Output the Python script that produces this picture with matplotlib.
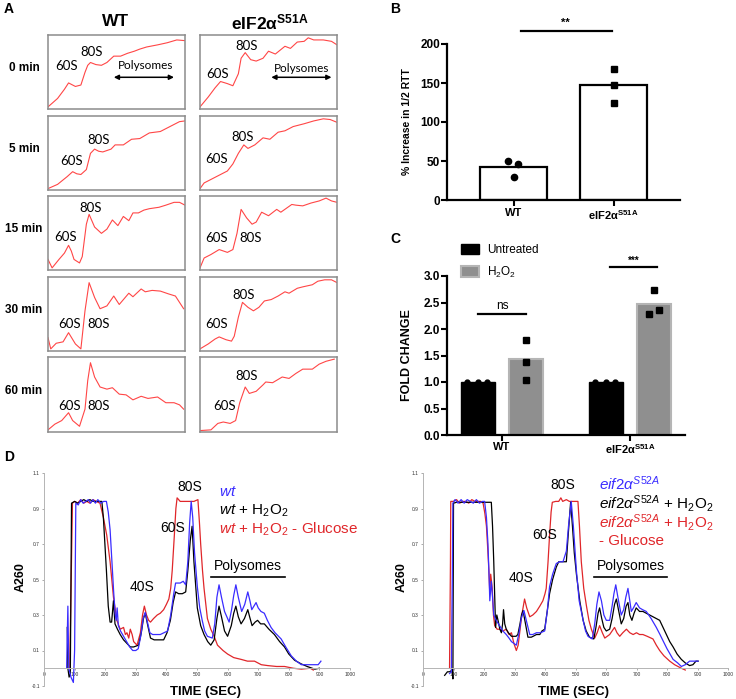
import numpy as np
import matplotlib
matplotlib.use("Agg")
import matplotlib.pyplot as plt
from matplotlib.patches import Patch

plt.rcParams['font.family'] = ['Liberation Sans', 'DejaVu Sans']
plt.rcParams['mathtext.fontset'] = 'custom'
plt.rcParams['mathtext.rm'] = 'Liberation Sans'
plt.rcParams['mathtext.it'] = 'Liberation Sans:italic'
plt.rcParams['mathtext.bf'] = 'Liberation Sans:bold'

W, H = 736, 699

# ---------------- data ----------------
# Panel A: sucrose-gradient traces, (position, absorbance) both normalised to the box
row_names = ["0 min", "5 min", "15 min", "30 min", "60 min"]

wt_0min = [(0, 0.01), (0.07, 0.13), (0.12, 0.26), (0.15, 0.35), (0.17, 0.33), (0.2, 0.3), (0.24, 0.32),
           (0.27, 0.5), (0.29, 0.6), (0.31, 0.64), (0.35, 0.61), (0.39, 0.6), (0.43, 0.64), (0.48, 0.73),
           (0.53, 0.73), (0.58, 0.77), (0.63, 0.8), (0.67, 0.83), (0.72, 0.86), (0.8, 0.89), (0.87, 0.92),
           (0.94, 0.96), (1.0, 0.95)]
wt_5min = [(0, 0.0), (0.07, 0.06), (0.14, 0.17), (0.18, 0.24), (0.21, 0.21), (0.24, 0.2), (0.28, 0.27),
           (0.31, 0.5), (0.34, 0.56), (0.37, 0.53), (0.4, 0.52), (0.46, 0.56), (0.49, 0.62), (0.55, 0.62),
           (0.61, 0.7), (0.67, 0.71), (0.74, 0.79), (0.82, 0.81), (0.89, 0.88), (0.96, 0.95), (1.0, 0.96)]
wt_15min = [(0, 0.13), (0.03, 0.01), (0.08, 0.13), (0.12, 0.22), (0.15, 0.33), (0.17, 0.25), (0.19, 0.13),
            (0.23, 0.08), (0.25, 0.17), (0.28, 0.63), (0.3, 0.77), (0.34, 0.59), (0.39, 0.5), (0.43, 0.56),
            (0.47, 0.69), (0.51, 0.61), (0.55, 0.74), (0.59, 0.68), (0.62, 0.79), (0.66, 0.79), (0.7, 0.83),
            (0.74, 0.85), (0.81, 0.87), (0.86, 0.9), (0.92, 0.94), (0.96, 0.94), (1.0, 0.9)]
wt_30min = [(0, 0.17), (0.02, 0.01), (0.06, 0.09), (0.11, 0.11), (0.15, 0.24), (0.2, 0.08), (0.24, 0.01),
            (0.27, 0.55), (0.3, 0.95), (0.34, 0.74), (0.38, 0.58), (0.43, 0.62), (0.48, 0.76), (0.52, 0.64),
            (0.59, 0.8), (0.62, 0.75), (0.68, 0.86), (0.71, 0.82), (0.76, 0.84), (0.82, 0.83), (0.88, 0.79),
            (0.93, 0.76), (0.96, 0.67), (0.99, 0.58)]
wt_60min = [(0, 0.01), (0.05, 0.09), (0.1, 0.14), (0.15, 0.25), (0.18, 0.14), (0.23, 0.06), (0.27, 0.3),
            (0.29, 0.7), (0.31, 0.95), (0.34, 0.75), (0.38, 0.61), (0.43, 0.58), (0.47, 0.6), (0.52, 0.51),
            (0.57, 0.5), (0.62, 0.43), (0.68, 0.48), (0.73, 0.45), (0.8, 0.47), (0.86, 0.39), (0.92, 0.39),
            (0.96, 0.36), (0.99, 0.3)]

mut_0min = [(0, 0.01), (0.06, 0.15), (0.11, 0.28), (0.15, 0.37), (0.2, 0.34), (0.24, 0.31), (0.28, 0.48),
            (0.3, 0.7), (0.33, 0.78), (0.37, 0.68), (0.41, 0.66), (0.46, 0.7), (0.5, 0.8), (0.55, 0.76),
            (0.62, 0.87), (0.66, 0.84), (0.71, 0.93), (0.76, 0.94), (0.79, 0.99), (0.83, 0.96), (0.9, 0.96),
            (0.96, 0.94), (1.0, 0.89)]
mut_5min = [(0, 0.0), (0.03, 0.08), (0.08, 0.13), (0.14, 0.19), (0.2, 0.25), (0.24, 0.35), (0.28, 0.5),
            (0.32, 0.62), (0.35, 0.57), (0.4, 0.62), (0.46, 0.72), (0.51, 0.7), (0.57, 0.8), (0.62, 0.82),
            (0.68, 0.88), (0.76, 0.92), (0.83, 0.96), (0.9, 0.99), (0.95, 0.98), (1.0, 0.94)]
mut_15min = [(0, 0.01), (0.03, 0.15), (0.08, 0.2), (0.14, 0.27), (0.2, 0.23), (0.24, 0.27), (0.27, 0.5),
             (0.3, 0.84), (0.34, 0.72), (0.38, 0.63), (0.41, 0.66), (0.45, 0.8), (0.5, 0.75), (0.56, 0.84),
             (0.59, 0.8), (0.67, 0.91), (0.7, 0.9), (0.75, 0.89), (0.81, 0.93), (0.87, 0.96), (0.92, 1.0),
             (0.96, 0.96), (1.0, 0.94)]
mut_30min = [(0, 0.01), (0.06, 0.08), (0.11, 0.15), (0.14, 0.18), (0.19, 0.14), (0.23, 0.12), (0.25, 0.19),
             (0.28, 0.46), (0.31, 0.67), (0.35, 0.6), (0.39, 0.55), (0.43, 0.6), (0.47, 0.69), (0.52, 0.71),
             (0.57, 0.76), (0.62, 0.82), (0.65, 0.8), (0.71, 0.87), (0.75, 0.89), (0.82, 0.92), (0.86, 0.97),
             (0.91, 0.99), (0.96, 0.99), (1.0, 0.95)]
mut_60min = [(0, 0.0), (0.08, 0.01), (0.13, 0.1), (0.17, 0.12), (0.22, 0.1), (0.26, 0.14), (0.29, 0.39),
             (0.33, 0.61), (0.36, 0.52), (0.41, 0.55), (0.46, 0.64), (0.48, 0.68), (0.53, 0.67), (0.6, 0.75),
             (0.65, 0.73), (0.7, 0.8), (0.75, 0.86), (0.82, 0.86), (0.87, 0.93), (0.92, 0.97), (0.98, 1.0)]

wt_traces = [wt_0min, wt_5min, wt_15min, wt_30min, wt_60min]
mut_traces = [mut_0min, mut_5min, mut_15min, mut_30min, mut_60min]

# Panel B: % increase in 1/2 RTT
b_groups = ["WT", "eIF2α$^{\\mathbf{S51A}}$"]
b_means = [42, 147]
b_wt_points = [50, 46, 30]
b_mut_points = [168, 147, 125]

# Panel C: fold change
c_groups = ["WT", "eIF2α$^{\\mathbf{S51A}}$"]
c_untreated = [1.0, 1.0]
c_h2o2 = [1.43, 2.47]
c_untreated_points = [[1.0, 1.0, 1.0], [1.0, 1.0, 1.0]]
c_h2o2_points = [[1.80, 1.38, 1.04], [2.73, 2.35, 2.29]]

# Panel D: A260 traces, (time in sec, A260)
wt_blue = [(74, 0.0), (78, 0.35), (81, 0.0), (88, -0.05), (96, -0.08), (100, 0.1), (104, 0.93), (112, 0.92),
           (120, 0.95), (128, 0.93), (136, 0.94), (145, 0.95), (152, 0.93), (160, 0.95), (168, 0.93), (176, 0.95),
           (185, 0.93), (195, 0.94), (204, 0.94), (210, 0.88), (216, 0.78), (222, 0.6), (228, 0.42), (233, 0.3),
           (236, 0.27), (239, 0.34), (243, 0.24), (250, 0.21), (260, 0.18), (270, 0.15), (280, 0.12), (290, 0.1),
           (300, 0.1), (308, 0.11), (316, 0.18), (324, 0.28), (331, 0.315), (338, 0.26), (346, 0.2), (355, 0.19),
           (370, 0.19), (380, 0.19), (392, 0.2), (404, 0.21), (414, 0.3), (424, 0.42), (430, 0.48), (445, 0.48),
           (455, 0.49), (463, 0.47), (470, 0.6), (476, 0.82), (481, 0.94), (486, 0.85), (492, 0.65), (501, 0.46),
           (509, 0.34), (517, 0.27), (525, 0.21), (534, 0.18), (550, 0.17), (558, 0.25), (565, 0.4), (572, 0.47),
           (580, 0.4), (590, 0.32), (605, 0.26), (613, 0.33), (620, 0.41), (627, 0.47), (635, 0.4), (646, 0.32),
           (656, 0.36), (666, 0.43), (673, 0.38), (679, 0.33), (686, 0.35), (693, 0.37), (700, 0.34), (709, 0.32),
           (720, 0.31), (730, 0.27), (742, 0.23), (755, 0.2), (775, 0.165), (790, 0.12), (808, 0.07), (825, 0.04),
           (841, 0.02), (870, 0.02), (896, 0.02), (905, 0.04)]
wt_black = [(76, 0.23), (78, 0.0), (82, -0.05), (86, -0.03), (90, 0.93), (100, 0.94), (110, 0.93), (120, 0.94),
            (130, 0.95), (140, 0.94), (150, 0.95), (160, 0.94), (170, 0.94), (180, 0.94), (189, 0.94), (194, 0.85),
            (199, 0.7), (204, 0.55), (210, 0.35), (216, 0.26), (221, 0.26), (227, 0.38), (232, 0.25), (240, 0.22),
            (249, 0.19), (260, 0.16), (271, 0.14), (282, 0.12), (293, 0.12), (309, 0.13), (318, 0.2), (325, 0.28),
            (331, 0.31), (338, 0.25), (348, 0.17), (360, 0.16), (375, 0.16), (391, 0.16), (402, 0.2), (413, 0.27),
            (422, 0.37), (430, 0.43), (440, 0.42), (452, 0.42), (463, 0.43), (470, 0.55), (478, 0.72), (484, 0.8),
            (490, 0.6), (501, 0.34), (512, 0.24), (523, 0.19), (535, 0.15), (545, 0.13), (556, 0.16), (565, 0.28),
            (572, 0.35), (580, 0.29), (590, 0.21), (600, 0.18), (612, 0.24), (620, 0.31), (627, 0.35), (635, 0.29),
            (644, 0.25), (655, 0.28), (666, 0.33), (672, 0.29), (680, 0.24), (690, 0.26), (698, 0.27), (708, 0.25),
            (720, 0.25), (735, 0.22), (753, 0.19), (770, 0.15), (786, 0.12), (800, 0.08), (819, 0.045),
            (840, 0.025), (860, 0.01), (885, -0.005), (900, 0.0)]
wt_red = [(84, 0.0), (93, 0.93), (100, 0.94), (110, 0.93), (120, 0.95), (130, 0.93), (140, 0.94), (150, 0.93),
          (160, 0.95), (170, 0.94), (183, 0.93), (194, 0.85), (205, 0.75), (216, 0.6), (227, 0.4), (238, 0.27),
          (249, 0.22), (260, 0.23), (266, 0.19), (271, 0.2), (277, 0.17), (282, 0.22), (288, 0.19), (293, 0.15),
          (304, 0.13), (315, 0.2), (322, 0.3), (328, 0.35), (335, 0.3), (342, 0.27), (348, 0.26), (358, 0.28),
          (370, 0.3), (380, 0.31), (391, 0.33), (400, 0.36), (408, 0.39), (414, 0.45), (419, 0.55), (426, 0.75),
          (431, 0.9), (435, 0.96), (445, 0.94), (455, 0.94), (465, 0.94), (475, 0.94), (490, 0.94), (503, 0.95),
          (508, 0.82), (512, 0.7), (518, 0.55), (523, 0.45), (534, 0.28), (545, 0.22), (556, 0.18), (567, 0.13),
          (585, 0.1), (600, 0.08), (620, 0.06), (644, 0.05), (665, 0.04), (688, 0.04), (710, 0.02), (731, 0.015),
          (760, 0.01), (786, 0.01), (815, 0.0), (841, -0.005), (870, 0.0), (880, -0.01)]

mut_blue = [(87, -0.03), (93, -0.02), (96, 0.5), (98, 0.93), (105, 0.95), (115, 0.93), (125, 0.95), (135, 0.93),
            (145, 0.95), (155, 0.94), (165, 0.93), (175, 0.95), (185, 0.93), (195, 0.94), (202, 0.94), (208, 0.85),
            (213, 0.7), (217, 0.5), (219, 0.38), (224, 0.49), (228, 0.4), (232, 0.3), (240, 0.27), (251, 0.24),
            (262, 0.21), (273, 0.19), (282, 0.17), (290, 0.15), (298, 0.14), (306, 0.13), (315, 0.2), (322, 0.28),
            (331, 0.325), (340, 0.26), (350, 0.19), (360, 0.19), (372, 0.2), (385, 0.2), (399, 0.21), (408, 0.33),
            (415, 0.46), (425, 0.53), (437, 0.59), (448, 0.6), (459, 0.6), (470, 0.66), (477, 0.8), (486, 0.94),
            (493, 0.8), (503, 0.55), (512, 0.38), (525, 0.27), (533, 0.21), (541, 0.18), (555, 0.165), (563, 0.25),
            (570, 0.36), (577, 0.43), (585, 0.38), (593, 0.3), (601, 0.27), (612, 0.27), (620, 0.35), (626, 0.42),
            (632, 0.47), (640, 0.39), (650, 0.3), (658, 0.33), (665, 0.4), (672, 0.45), (678, 0.38), (683, 0.32),
            (690, 0.34), (699, 0.37), (710, 0.34), (720, 0.33), (732, 0.32), (748, 0.28), (765, 0.23), (777, 0.19),
            (787, 0.155), (800, 0.11), (810, 0.08), (820, 0.05), (835, 0.03), (847, 0.01), (860, 0.02),
            (874, 0.04), (890, 0.04), (902, 0.04)]
mut_black = [(71, -0.04), (80, -0.02), (87, -0.02), (96, -0.01), (98, -0.06), (100, 0.93), (110, 0.935),
             (130, 0.935), (150, 0.935), (170, 0.935), (190, 0.935), (210, 0.935), (224, 0.935), (228, 0.8),
             (232, 0.6), (236, 0.35), (238, 0.23), (242, 0.3), (246, 0.27), (252, 0.22), (257, 0.2), (261, 0.25),
             (264, 0.33), (268, 0.25), (273, 0.22), (280, 0.2), (290, 0.18), (305, 0.18), (311, 0.19), (318, 0.25),
             (323, 0.3), (328, 0.325), (335, 0.26), (344, 0.175), (355, 0.175), (361, 0.18), (372, 0.19),
             (383, 0.19), (390, 0.21), (399, 0.22), (408, 0.33), (415, 0.42), (425, 0.5), (437, 0.57), (445, 0.6),
             (453, 0.6), (470, 0.6), (476, 0.75), (484, 0.935), (490, 0.8), (496, 0.65), (503, 0.53), (514, 0.38),
             (525, 0.27), (535, 0.21), (546, 0.175), (560, 0.165), (567, 0.23), (574, 0.31), (579, 0.34),
             (586, 0.28), (593, 0.23), (601, 0.21), (612, 0.22), (620, 0.28), (628, 0.36), (634, 0.39), (642, 0.32),
             (650, 0.25), (658, 0.28), (666, 0.35), (672, 0.37), (678, 0.3), (685, 0.27), (692, 0.31), (699, 0.34),
             (710, 0.32), (721, 0.32), (732, 0.31), (743, 0.3), (754, 0.29), (765, 0.28), (776, 0.27), (787, 0.23),
             (798, 0.19), (809, 0.15), (820, 0.12), (833, 0.08), (847, 0.05), (860, 0.03), (874, 0.015),
             (885, 0.02), (895, 0.04), (902, 0.04)]
mut_red = [(87, 0.0), (90, 0.6), (91, 0.94), (100, 0.94), (110, 0.95), (120, 0.93), (130, 0.94), (140, 0.94),
           (150, 0.93), (160, 0.95), (170, 0.94), (180, 0.94), (190, 0.94), (197, 0.93), (203, 0.87), (208, 0.8),
           (212, 0.68), (216, 0.55), (219, 0.42), (222, 0.53), (227, 0.45), (231, 0.3), (235, 0.24), (243, 0.22),
           (251, 0.22), (262, 0.21), (273, 0.22), (282, 0.19), (290, 0.2), (298, 0.14), (306, 0.1), (312, 0.13),
           (317, 0.2), (324, 0.3), (333, 0.39), (340, 0.34), (350, 0.29), (360, 0.3), (372, 0.32), (383, 0.35),
           (393, 0.38), (400, 0.42), (404, 0.45), (410, 0.6), (415, 0.75), (420, 0.88), (424, 0.935), (435, 0.94),
           (445, 0.94), (452, 0.96), (458, 0.94), (470, 0.95), (480, 0.94), (490, 0.94), (500, 0.94), (508, 0.94),
           (513, 0.8), (519, 0.6), (527, 0.45), (536, 0.35), (544, 0.27), (552, 0.22), (563, 0.17), (571, 0.2),
           (579, 0.24), (588, 0.2), (596, 0.17), (604, 0.18), (612, 0.19), (620, 0.21), (628, 0.23), (636, 0.2),
           (645, 0.18), (655, 0.2), (667, 0.22), (678, 0.2), (689, 0.19), (700, 0.2), (710, 0.19), (721, 0.19),
           (735, 0.18), (754, 0.165), (765, 0.13), (776, 0.1), (790, 0.07), (809, 0.04), (825, 0.02), (847, 0.0),
           (860, -0.01)]

d_xticks = np.arange(0, 1001, 100)
d_yticks = [-0.1, 0.1, 0.3, 0.5, 0.7, 0.9, 1.1]

BLUE = '#3a2cff'
RED = '#e0262a'
TRACE_RED = '#ff4646'
GRAY_BAR = '#8f8f8f'


def px_axes(fig, x0, y0, x1, y1):
    # axes from pixel box (top-left origin)
    return fig.add_axes([x0 / W, 1 - y1 / H, (x1 - x0) / W, (y1 - y0) / H])


def ftext(fig, x, y, s, **kw):
    fig.text(x / W, 1 - y / H, s, **kw)


fig = plt.figure(figsize=(W / 100, H / 100), dpi=100)

# ---------------- panel A ----------------
ftext(fig, 9, 9, "A", fontsize=10, fontweight='bold', ha='center', va='center')
ftext(fig, 116, 22, "WT", fontsize=12.5, fontweight='bold', ha='center', va='center')
ftext(fig, 270, 22, "eIF2α$^{\\mathbf{S51A}}$", fontsize=12.5, fontweight='bold', ha='center', va='center')

rows_px = [(35, 109), (116, 190), (196, 270), (277, 351), (357, 432)]
wt_lab = [((0.135, 0.59), (0.32, 0.79)), ((0.17, 0.39), (0.37, 0.69)), ((0.13, 0.45), (0.31, 0.86)),
          ((0.16, 0.37), (0.37, 0.37)), ((0.16, 0.34), (0.37, 0.34))]
mut_lab = [((0.13, 0.47), (0.34, 0.87)), ((0.12, 0.42), (0.31, 0.73)), ((0.12, 0.43), (0.37, 0.43)),
           ((0.12, 0.37), (0.32, 0.78)), ((0.18, 0.34), (0.34, 0.76))]

for i, (y0, y1) in enumerate(rows_px):
    ftext(fig, 24, (y0 + y1) / 2 - 4, row_names[i], fontsize=8.5, fontweight='bold', ha='center', va='center')
    for (x0, x1), trace, labs in [((48, 185), wt_traces[i], wt_lab[i]), ((200, 337), mut_traces[i], mut_lab[i])]:
        ax = px_axes(fig, x0, y0, x1, y1)
        xs = [p[0] for p in trace]
        ys = [p[1] for p in trace]
        ax.plot(xs, ys, color=TRACE_RED, lw=0.8)
        ax.set_xlim(0, 1)
        ax.set_ylim(-0.02, 1.03)
        ax.set_xticks([])
        ax.set_yticks([])
        for sp in ax.spines.values():
            sp.set_color('#8c8c8c')
            sp.set_linewidth(1.1)
        for name, (tx, ty) in zip(["60S", "80S"], labs):
            ax.text(tx, ty, name, fontsize=9.5, family='Lato', ha='center', va='center')
        if i == 0:
            ax.text(0.71 if x0 < 100 else 0.74, 0.6 if x0 < 100 else 0.56, "Polysomes",
                    fontsize=8.5, family='Lato', ha='center', va='center')
            ax.annotate('', xy=(0.94 if x0 < 100 else 0.98, 0.43), xytext=(0.46 if x0 < 100 else 0.5, 0.43),
                        arrowprops=dict(arrowstyle='<|-|>', color='black', lw=1.1, mutation_scale=7))

# ---------------- panel B ----------------
ftext(fig, 395, 9, "B", fontsize=10, fontweight='bold', ha='center', va='center')
axb = px_axes(fig, 447, 44, 680, 200)
axb.bar([0, 1], b_means, width=0.67, color='white', edgecolor='black', linewidth=1.6, zorder=2)
axb.plot([-0.055, 0.045, 0.0], b_wt_points, 'o', color='black', ms=4.5, zorder=3, clip_on=False)
axb.plot([1.0, 1.0, 1.0], b_mut_points, 's', color='black', ms=4.5, zorder=3, clip_on=False)
axb.set_xlim(-0.665, 1.665)
axb.set_ylim(0, 200)
axb.set_yticks([0, 50, 100, 150, 200])
axb.set_xticks([0, 1])
axb.set_xticklabels(b_groups, fontsize=8, fontweight='bold')
for lab in axb.get_yticklabels():
    lab.set_fontweight('bold')
axb.tick_params(axis='y', labelsize=8.5, width=1.5, length=4, pad=1)
axb.tick_params(axis='x', width=1.5, length=4, pad=2)
for s in ['top', 'right']:
    axb.spines[s].set_visible(False)
for s in ['left', 'bottom']:
    axb.spines[s].set_linewidth(1.6)
axb.set_ylabel("% Increase in 1/2 RTT", fontsize=7.5, fontweight='bold')
axb.yaxis.set_label_coords(-0.15, 0.5)
axb.plot([0.075, 0.985], [217, 217], color='black', lw=1.6, clip_on=False)
axb.text(0.515, 221, "**", fontsize=8, ha='center', va='bottom', fontweight='bold')

# ---------------- panel C ----------------
ftext(fig, 395, 239, "C", fontsize=10, fontweight='bold', ha='center', va='center')
axc = px_axes(fig, 447, 276, 685, 435)
pos = np.arange(len(c_groups))
axc.bar(pos - 0.19, c_untreated, width=0.266, color='black', edgecolor='black', linewidth=1, zorder=2)
axc.bar(pos + 0.19, c_h2o2, width=0.266, color=GRAY_BAR, edgecolor='#b5b5b5', linewidth=1.5, zorder=2)
for g in range(len(c_groups)):
    axc.plot(g - 0.19 + np.array([-0.08, 0.0, 0.075]), c_untreated_points[g], 'o', color='black', ms=3.5, zorder=3)
    offs = [0.0, 0.0, 0.0] if g == 0 else [0.0, 0.035, -0.04]
    axc.plot(g + 0.19 + np.array(offs), c_h2o2_points[g], 's', color='black', ms=4.3, zorder=3, clip_on=False)
axc.set_xlim(-0.43, 1.43)
axc.set_ylim(0, 3.0)
axc.set_yticks(np.arange(0, 3.01, 0.5))
axc.set_yticklabels([f"{v:.1f}" for v in np.arange(0, 3.01, 0.5)], fontsize=8.5, fontweight='bold')
axc.set_xticks(pos)
axc.set_xticklabels(c_groups, fontsize=8, fontweight='bold')
axc.tick_params(axis='both', width=1.5, length=4, pad=1)
for s in ['top', 'right']:
    axc.spines[s].set_visible(False)
for s in ['left', 'bottom']:
    axc.spines[s].set_linewidth(1.6)
axc.set_ylabel("FOLD CHANGE", fontsize=9, fontweight='bold')
axc.yaxis.set_label_coords(-0.143, 0.5)
axc.plot([-0.1875, 0.1875], [2.28, 2.28], color='black', lw=1.6, clip_on=False)
axc.text(0.0, 2.33, "ns", fontsize=8.5, ha='center', va='bottom')
axc.plot([0.845, 1.21], [3.17, 3.17], color='black', lw=1.6, clip_on=False)
axc.text(1.03, 3.2, "***", fontsize=7, ha='center', va='bottom', fontweight='bold')
handles = [Patch(facecolor='black', edgecolor='black'),
           Patch(facecolor=GRAY_BAR, edgecolor='#b5b5b5', linewidth=1.5)]
axc.legend(handles, ["Untreated", "H$_2$O$_2$"], loc='upper left', bbox_to_anchor=(0.06, 1.2),
           frameon=False, fontsize=8.5, handlelength=1.5, handleheight=0.95, handletextpad=0.7,
           labelspacing=0.7, borderpad=0, borderaxespad=0)

# ---------------- panel D ----------------
ftext(fig, 9, 457, "D", fontsize=10, fontweight='bold', ha='center', va='center')


def trace_plot(ax, traces, colors):
    for tr, col in zip(traces, colors):
        ax.plot([p[0] for p in tr], [p[1] for p in tr], color=col, lw=0.9)
    ax.set_xlim(0, 1000)
    ax.set_ylim(-0.1, 1.1)
    ax.spines['top'].set_visible(False)
    ax.spines['right'].set_visible(False)
    ax.spines['bottom'].set_position(('data', 0))
    for s in ['left', 'bottom']:
        ax.spines[s].set_color('#b4b4b4')
        ax.spines[s].set_linewidth(0.7)
    ax.set_xticks(d_xticks)
    ax.set_xticklabels([str(v) for v in d_xticks])
    ax.set_yticks(d_yticks)
    ax.set_yticklabels([f"{v:.1f}" for v in d_yticks])
    ax.tick_params(labelsize=3.5, length=1.5, width=0.5, color='#888888', labelcolor='#333333', pad=1.5)
    ax.patch.set_alpha(0)


axd1 = px_axes(fig, 44, 473, 350, 686)
trace_plot(axd1, [wt_red, wt_black, wt_blue], [RED, 'black', BLUE])
axd1.text(476, 1.02, "80S", fontsize=10, ha='center', va='center')
axd1.text(419, 0.79, "60S", fontsize=10, ha='center', va='center')
axd1.text(320, 0.46, "40S", fontsize=10, ha='center', va='center')
axd1.text(665, 0.575, "Polysomes", fontsize=10, ha='center', va='center')
axd1.plot([547, 786], [0.512, 0.512], color='black', lw=1.2)
axd1.text(572, 0.995, "$\\mathit{wt}$", fontsize=11, color=BLUE, ha='left', va='center')
axd1.text(572, 0.888, "$\\mathit{wt}$ + H$_2$O$_2$", fontsize=11, color='black', ha='left', va='center')
axd1.text(572, 0.78, "$\\mathit{wt}$ + H$_2$O$_2$ - Glucose", fontsize=11, color=RED, ha='left', va='center',
          clip_on=False)
ftext(fig, 21, 577, "A260", fontsize=9, fontweight='bold', rotation=90, ha='center', va='center')
ftext(fig, 205, 692, "TIME (SEC)", fontsize=9.5, fontweight='bold', ha='center', va='center')

axd2 = px_axes(fig, 423, 473, 728, 686)
trace_plot(axd2, [mut_red, mut_black, mut_blue], [RED, 'black', BLUE])
axd2.text(459, 1.03, "80S", fontsize=10, ha='center', va='center')
axd2.text(399, 0.75, "60S", fontsize=10, ha='center', va='center')
axd2.text(322, 0.51, "40S", fontsize=10, ha='center', va='center')
axd2.text(680, 0.575, "Polysomes", fontsize=10, ha='center', va='center')
axd2.plot([560, 800], [0.516, 0.516], color='black', lw=1.2)
mut_name = "$\\mathit{eif2\\alpha}^{\\mathit{S52A}}$"
axd2.text(577, 1.04, mut_name, fontsize=11, color=BLUE, ha='left', va='center', clip_on=False)
axd2.text(577, 0.93, mut_name + " + H$_2$O$_2$", fontsize=11, color='black', ha='left', va='center', clip_on=False)
axd2.text(577, 0.82, mut_name + " + H$_2$O$_2$", fontsize=11, color=RED, ha='left', va='center', clip_on=False)
axd2.text(577, 0.715, "- Glucose", fontsize=11, color=RED, ha='left', va='center', clip_on=False)
ftext(fig, 402, 577, "A260", fontsize=9, fontweight='bold', rotation=90, ha='center', va='center')
ftext(fig, 573, 692, "TIME (SEC)", fontsize=9.5, fontweight='bold', ha='center', va='center')

fig.savefig("out.png", dpi=100)
